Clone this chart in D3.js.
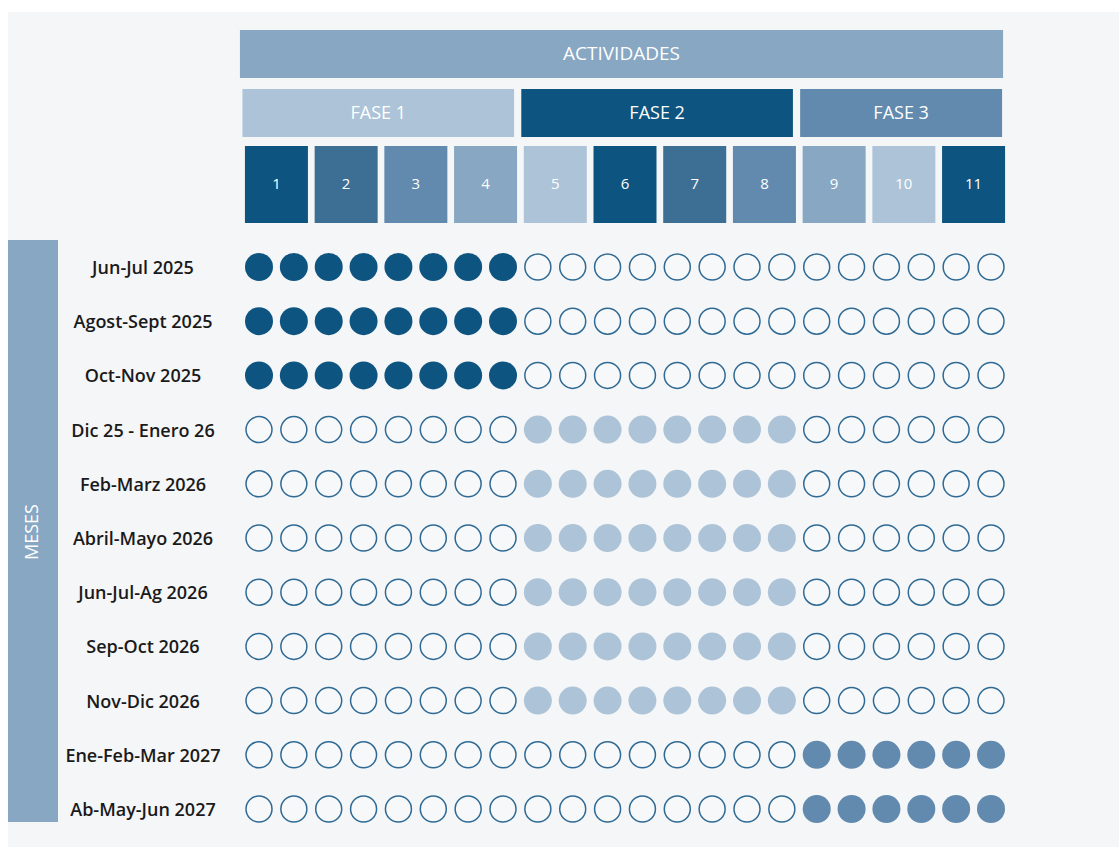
<!DOCTYPE html>
<html><head><meta charset="utf-8">
<script src="https://cdn.jsdelivr.net/npm/d3@7"></script>
<style>
html,body{margin:0;padding:0;background:#ffffff;}
svg{display:block;}
</style></head>
<body>
<svg id="chart" width="1119" height="847"></svg>
<script>
// ---- data ----
const months = ["Jun-Jul 2025","Agost-Sept 2025","Oct-Nov 2025","Dic 25 - Enero 26","Feb-Marz 2026","Abril-Mayo 2026","Jun-Jul-Ag 2026","Sep-Oct 2026","Nov-Dic 2026","Ene-Feb-Mar 2027","Ab-May-Jun 2027"];
const activities = ["1","2","3","4","5","6","7","8","9","10","11"];
const activityPhase = [1,1,1,1,2,2,2,2,3,3,3];
const activityShade = [0,1,2,3,4,0,1,2,3,4,0];
const phases = ["FASE 1","FASE 2","FASE 3"];
const phaseMonths = {1:[0,1,2], 2:[3,4,5,6,7,8], 3:[9,10]};
const slotsPerActivity = 2;

const shades = ["#0e5480","#3d6e94","#618aae","#87a7c3","#adc4d8"];
const phaseColor = {1:"#adc4d8", 2:"#0e5480", 3:"#618aae"};
const dotColor = {1:"#0e5480", 2:"#adc4d8", 3:"#618aae"};

const svg = d3.select("#chart");
svg.append("rect").attr("x",8).attr("y",12).attr("width",1111).attr("height",835).attr("fill","#f5f6f8");

const nSlots = activities.length*slotsPerActivity;
const x = d3.scalePoint().domain(d3.range(nSlots)).range([259,991]);
const y = d3.scalePoint().domain(months).range([267,809]);
const font = "'Open Sans', Roboto, 'DejaVu Sans', sans-serif";

// Activity boxes
const actCenter = i => (x(i*2)+x(i*2+1))/2;
const boxW = 63;
svg.append("g").selectAll("g").data(activities).join("g").each(function(a,i){
  const g = d3.select(this);
  g.append("rect").attr("x",actCenter(i)-boxW/2).attr("y",146).attr("width",boxW).attr("height",77)
    .attr("fill",shades[activityShade[i]]);
  g.append("text").attr("x",actCenter(i)).attr("y",183).attr("text-anchor","middle").attr("dominant-baseline","central")
    .attr("fill","#fff").attr("font-family",font).attr("font-size",15).text(a);
});

// Phase bars
phases.forEach((p,k)=>{
  const idx = activityPhase.map((v,i)=>v===k+1?i:-1).filter(i=>i>=0);
  const x0 = actCenter(idx[0])-boxW/2-2.5, x1 = actCenter(idx[idx.length-1])+boxW/2-3;
  svg.append("rect").attr("x",x0).attr("y",89).attr("width",x1-x0).attr("height",48).attr("fill",phaseColor[k+1]);
  svg.append("text").attr("x",(x0+x1)/2).attr("y",112).attr("text-anchor","middle").attr("dominant-baseline","central")
    .attr("fill","#fff").attr("font-family",font).attr("font-size",18).text(p);
});

// Actividades bar
const ax0 = actCenter(0)-boxW/2-5, ax1 = actCenter(10)+boxW/2-2;
svg.append("rect").attr("x",ax0).attr("y",30).attr("width",ax1-ax0).attr("height",48).attr("fill","#87a7c3");
svg.append("text").attr("x",(ax0+ax1)/2).attr("y",53).attr("text-anchor","middle").attr("dominant-baseline","central")
  .attr("fill","#fff").attr("font-family",font).attr("font-size",19).text("ACTIVIDADES");

// Meses bar
svg.append("rect").attr("x",8).attr("y",240).attr("width",50).attr("height",582).attr("fill","#87a7c3");
svg.append("text").attr("transform","translate(31,532) rotate(-90)").attr("text-anchor","middle").attr("dominant-baseline","central")
  .attr("fill","#fff").attr("font-family",font).attr("font-size",18).text("MESES");

// Month labels
svg.append("g").selectAll("text").data(months).join("text")
  .attr("x",143).attr("y",d=>y(d)).attr("text-anchor","middle").attr("dominant-baseline","central")
  .attr("fill","#1a1a1a").attr("font-family",font).attr("font-size",18).attr("font-weight",600).text(d=>d);

// Dots
const cells = [];
months.forEach((m,mi)=>{
  d3.range(nSlots).forEach(s=>{
    const ai = Math.floor(s/slotsPerActivity);
    const ph = activityPhase[ai];
    const on = phaseMonths[ph].includes(mi);
    cells.push({m, s, on, ph});
  });
});
svg.append("g").selectAll("circle").data(cells).join("circle")
  .attr("cx",d=>x(d.s)).attr("cy",d=>y(d.m))
  .attr("r",d=>d.on?14:13)
  .attr("fill",d=>d.on?dotColor[d.ph]:"#f7f8fa")
  .attr("stroke",d=>d.on?"none":"#2f6a94")
  .attr("stroke-width",1.5);
</script>
</body></html>
